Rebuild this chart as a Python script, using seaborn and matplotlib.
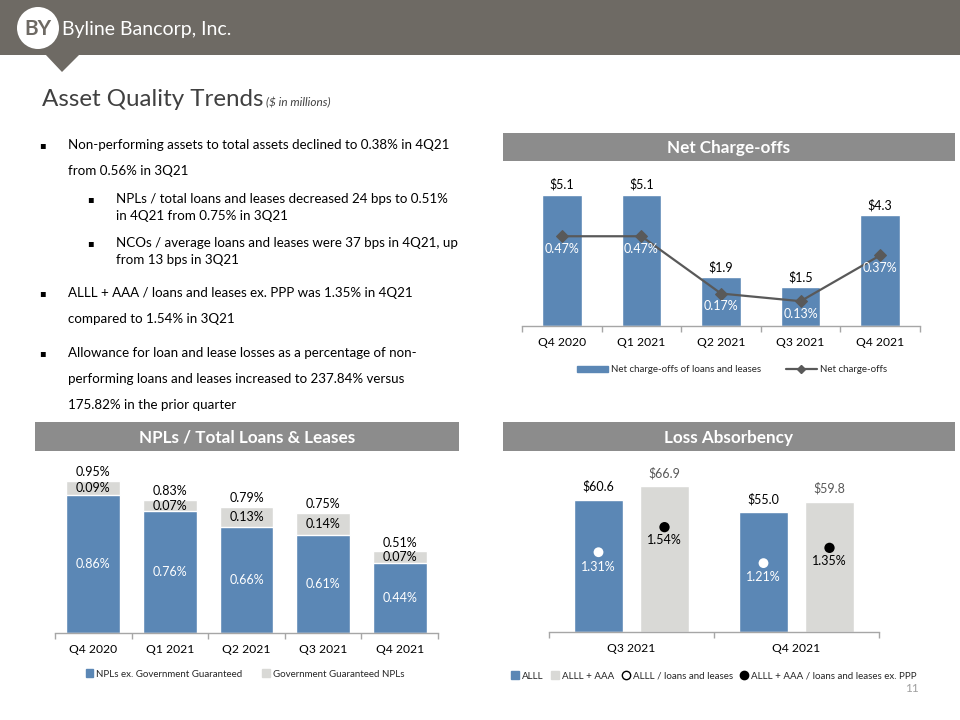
import numpy as np
import pandas as pd
import seaborn as sns
import matplotlib
matplotlib.use('Agg')
from matplotlib import pyplot as plt
from matplotlib.patches import Rectangle, Polygon, Circle, Patch
from matplotlib.lines import Line2D

# data
quarters = ['Q4 2020', 'Q1 2021', 'Q2 2021', 'Q3 2021', 'Q4 2021']
nco_amount = [5.1, 5.1, 1.9, 1.5, 4.3]
nco_pct = [0.47, 0.47, 0.17, 0.13, 0.37]

npl_ex_gov = [0.86, 0.76, 0.66, 0.61, 0.44]
npl_gov = [0.09, 0.07, 0.13, 0.14, 0.07]
npl_total = [0.95, 0.83, 0.79, 0.75, 0.51]

loss_quarters = ['Q3 2021', 'Q4 2021']
loss_series = ['ALLL', 'ALLL + AAA']
alll = [60.6, 55.0]
alll_aaa = [66.9, 59.8]
alll_ratio = [1.31, 1.21]
alll_aaa_ratio = [1.54, 1.35]

bullets = [
    (0, ['Non-performing assets to total assets declined to 0.38% in 4Q21',
         'from 0.56% in 3Q21']),
    (1, ['NPLs / total loans and leases decreased 24 bps to 0.51%',
         'in 4Q21 from 0.75% in 3Q21']),
    (1, ['NCOs / average loans and leases were 37 bps in 4Q21, up',
         'from 13 bps in 3Q21']),
    (0, ['ALLL + AAA / loans and leases ex. PPP was 1.35% in 4Q21',
         'compared to 1.54% in 3Q21']),
    (0, ['Allowance for loan and lease losses as a percentage of non-',
         'performing loans and leases increased to 237.84% versus',
         '175.82% in the prior quarter']),
]
bullet_rows = [[145, 171], [199, 216], [243, 260], [293, 319], [353, 379, 405]]

BLUE = '#5b87b5'
GRAY = '#d9d9d6'
BAND = '#6e6a64'
HEAD = '#8c8c8c'
LINE = '#595959'
AXIS = '#a6a6a6'

sns.set_theme(style='white')
plt.rcParams['font.family'] = ['Lato', 'DejaVu Sans']

W, H = 960, 720
fig = plt.figure(figsize=(9.6, 7.2), dpi=100)


def px_axes(x0, y0, x1, y1):
    return fig.add_axes([x0 / W, 1 - y1 / H, (x1 - x0) / W, (y1 - y0) / H])


def style_cat_axis(ax, labels):
    n = len(labels)
    for s in ['top', 'left', 'right']:
        ax.spines[s].set_visible(False)
    ax.spines['bottom'].set_color(AXIS)
    ax.spines['bottom'].set_linewidth(1)
    ax.set_yticks([])
    ax.set_xticks(range(n))
    ax.set_xticklabels(labels, fontsize=8.7, color='black')
    ax.set_xticks(np.arange(n + 1) - 0.5, minor=True)
    ax.tick_params(axis='x', which='major', length=0, pad=8)
    ax.tick_params(axis='x', which='minor', length=4, color=AXIS, width=1,
                   direction='out', bottom=True)
    ax.set_xlim(-0.5, n - 0.5)
    ax.set_xlabel('')
    ax.set_ylabel('')


def hide_twin(ax):
    for s in ax.spines.values():
        s.set_visible(False)
    ax.set_yticks([])
    ax.set_ylabel('')


# ---- slide furniture ----
bg = fig.add_axes([0, 0, 1, 1])
bg.set_xlim(0, W)
bg.set_ylim(H, 0)
bg.axis('off')

bg.add_patch(Rectangle((0, 0), W, 55, color=BAND, lw=0))
bg.add_patch(Polygon([(45, 54), (80, 54), (62, 72)], color=BAND, lw=0))
bg.add_patch(Circle((38, 28), 21, color='white', lw=0))
bg.text(38, 29, 'BY', ha='center', va='center', fontsize=15, color=BAND,
        fontweight='bold')
bg.text(62, 29, 'Byline Bancorp, Inc.', ha='left', va='center', fontsize=14,
        color='white')

title = bg.text(42, 106, 'Asset Quality Trends', fontsize=17.4, color='#404040',
                va='baseline', ha='left')
fig.canvas.draw()
t_end = bg.transData.inverted().transform(
    (title.get_window_extent().x1, 0))[0]
bg.text(t_end + 2, 106, '($ in millions)', fontsize=8.5, color='#404040',
        va='baseline', ha='left', style='italic')

for (level, lines), rows in zip(bullets, bullet_rows):
    bx = 42 if level == 0 else 90
    tx = 68 if level == 0 else 116
    bg.text(bx, rows[0], '\u25aa', ha='center', va='center', fontsize=7,
            family='DejaVu Sans', color='black')
    for line, y in zip(lines, rows):
        bg.text(tx, y, line, ha='left', va='center', fontsize=9.6,
                color='black')

for (x0, y0, x1, y1, head) in [(503, 133, 955, 161, 'Net Charge-offs'),
                               (35, 422, 459, 451, 'NPLs / Total Loans & Leases'),
                               (503, 422, 955, 451, 'Loss Absorbency')]:
    bg.add_patch(Rectangle((x0, y0), x1 - x0, y1 - y0, color=HEAD, lw=0))
    bg.text((x0 + x1) / 2, (y0 + y1) / 2 + 1, head, ha='center', va='center',
            fontsize=12.3, color='white', fontweight='bold')

bg.text(912, 688, '11', ha='center', va='center', fontsize=8.5, color='#a0a0a0')

# ---- Net charge-offs ----
ax_nco = px_axes(522, 170, 920, 326)
sns.barplot(x=quarters, y=nco_amount, color=BLUE, saturation=1, width=0.5,
            ax=ax_nco)
ax_nco.set_ylim(0, 6.07)
style_cat_axis(ax_nco, quarters)

ax_nco2 = ax_nco.twinx()
sns.lineplot(x=np.arange(len(quarters)), y=nco_pct, ax=ax_nco2, color=LINE,
             marker='D', markersize=6, markeredgecolor=LINE, linewidth=1.6)
ax_nco2.set_ylim(0, 0.817)
ax_nco2.set_xlim(-0.5, len(quarters) - 0.5)
hide_twin(ax_nco2)

for i, v in enumerate(nco_amount):
    ax_nco.annotate(f'${v:.1f}', (i, v), xytext=(0, 3), textcoords='offset points',
                    ha='center', va='bottom', fontsize=9, color='black')
for i, p in enumerate(nco_pct):
    ax_nco2.annotate(f'{p:.2f}%', (i, p), xytext=(0, -5), textcoords='offset points',
                     ha='center', va='top', fontsize=9, color='white')

ax_nco.legend([Patch(color=BLUE), Line2D([], [], color=LINE, marker='D', markersize=4,
                                         linewidth=1.6)],
              ['Net charge-offs of loans and leases', 'Net charge-offs'],
              loc='center', bbox_to_anchor=(732 / W, 1 - 370 / H),
              bbox_transform=fig.transFigure, ncol=2, frameon=False, fontsize=7,
              handlelength=3.2, handleheight=0.6, columnspacing=2.5, handletextpad=0.3)

# ---- NPLs / total loans ----
ax_npl = px_axes(55, 473, 438, 633)
sns.barplot(x=quarters, y=npl_total, color=GRAY, saturation=1, width=0.7, ax=ax_npl)
sns.barplot(x=quarters, y=npl_ex_gov, color=BLUE, saturation=1, width=0.7, ax=ax_npl)
ax_npl.set_ylim(0, 1.0)
style_cat_axis(ax_npl, quarters)

for i in range(len(quarters)):
    ax_npl.text(i, npl_ex_gov[i] / 2, f'{npl_ex_gov[i]:.2f}%', ha='center',
                va='center', fontsize=9, color='white')
    ax_npl.text(i, npl_ex_gov[i] + npl_gov[i] / 2, f'{npl_gov[i]:.2f}%',
                ha='center', va='center', fontsize=9, color='black')
    ax_npl.annotate(f'{npl_total[i]:.2f}%', (i, npl_total[i]), xytext=(0, 2),
                    textcoords='offset points', ha='center', va='bottom',
                    fontsize=9, color='black')

ax_npl.legend([Patch(color=BLUE), Patch(color=GRAY)],
              ['NPLs ex. Government Guaranteed', 'Government Guaranteed NPLs'],
              loc='center', bbox_to_anchor=(245 / W, 1 - 674 / H),
              bbox_transform=fig.transFigure, ncol=2, frameon=False, fontsize=7,
              handlelength=0.8, handleheight=0.8, columnspacing=2.0, handletextpad=0.3)

# ---- Loss absorbency ----
df_loss = pd.DataFrame({
    'quarter': loss_quarters * 2,
    'series': [loss_series[0]] * 2 + [loss_series[1]] * 2,
    'value': alll + alll_aaa,
})
ax_loss = px_axes(549, 472, 879, 632)
sns.barplot(data=df_loss, x='quarter', y='value', hue='series',
            palette=[BLUE, GRAY], saturation=1, width=0.8, gap=0.25,
            legend=False, ax=ax_loss)
ax_loss.set_ylim(0, 73.4)
style_cat_axis(ax_loss, loss_quarters)

c_alll = [b.get_x() + b.get_width() / 2 for b in ax_loss.containers[0]]
c_aaa = [b.get_x() + b.get_width() / 2 for b in ax_loss.containers[1]]

for x, v in zip(c_alll, alll):
    ax_loss.annotate(f'${v:.1f}', (x, v), xytext=(0, 5), textcoords='offset points',
                     ha='center', va='bottom', fontsize=9, color='black')
for x, v in zip(c_aaa, alll_aaa):
    ax_loss.annotate(f'${v:.1f}', (x, v), xytext=(0, 5), textcoords='offset points',
                     ha='center', va='bottom', fontsize=9, color=LINE)

ax_loss2 = ax_loss.twinx()
sns.scatterplot(x=c_alll, y=alll_ratio, color='white', s=50, edgecolor='none',
                ax=ax_loss2, legend=False)
sns.scatterplot(x=c_aaa, y=alll_aaa_ratio, color='black', s=55, edgecolor='none',
                ax=ax_loss2, legend=False)
ax_loss2.set_ylim(0.578, 2.046)
ax_loss2.set_xlim(-0.5, len(loss_quarters) - 0.5)
hide_twin(ax_loss2)

for x, p in zip(c_alll, alll_ratio):
    ax_loss2.annotate(f'{p:.2f}%', (x, p), xytext=(0, -6), textcoords='offset points',
                      ha='center', va='top', fontsize=9, color='white')
for x, p in zip(c_aaa, alll_aaa_ratio):
    ax_loss2.annotate(f'{p:.2f}%', (x, p), xytext=(0, -5), textcoords='offset points',
                      ha='center', va='top', fontsize=9, color='black')

ax_loss.legend([Patch(color=BLUE), Patch(color=GRAY),
                Line2D([], [], linestyle='none', marker='o', markersize=6,
                       markerfacecolor='white', markeredgecolor='black'),
                Line2D([], [], linestyle='none', marker='o', markersize=6,
                       markerfacecolor='black', markeredgecolor='black')],
               ['ALLL', 'ALLL + AAA', 'ALLL / loans and leases',
                'ALLL + AAA / loans and leases ex. PPP'],
               loc='center', bbox_to_anchor=(714 / W, 1 - 676 / H),
               bbox_transform=fig.transFigure, ncol=4, frameon=False, fontsize=7,
               handlelength=0.8, handleheight=0.8, columnspacing=0.8, handletextpad=0.3)

fig.savefig('out.png', dpi=100)
